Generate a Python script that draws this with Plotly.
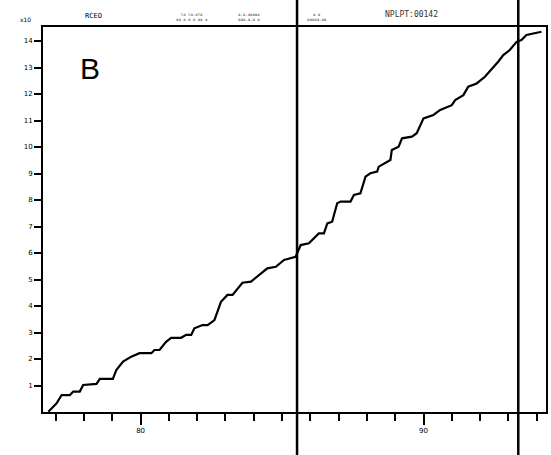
import plotly.graph_objects as go

# Cumulative curve
x_vals = [76.74, 76.91, 77.03, 77.21, 77.50, 77.62, 77.85, 77.97, 78.44, 78.56,
          79.02, 79.14, 79.38, 79.67, 79.96, 80.38, 80.49, 80.67, 80.90, 81.08,
          81.43, 81.61, 81.79, 81.90, 82.19, 82.37, 82.61, 82.84, 83.07, 83.25,
          83.60, 83.90, 84.19, 84.48, 84.78, 85.07, 85.48, 85.66, 85.95, 86.30,
          86.48, 86.60, 86.77, 86.95, 87.07, 87.42, 87.54, 87.77, 87.95, 88.12,
          88.36, 88.42, 88.83, 88.88, 89.12, 89.24, 89.59, 89.76, 90.00, 90.35,
          90.59, 91.00, 91.12, 91.41, 91.58, 91.88, 92.17, 92.40, 92.64, 92.82,
          93.05, 93.29, 93.46, 93.64, 93.93, 94.17]
y_vals = [0.01, 0.20, 0.33, 0.64, 0.64, 0.77, 0.77, 1.02, 1.06, 1.25,
          1.25, 1.58, 1.90, 2.09, 2.22, 2.22, 2.34, 2.34, 2.65, 2.80,
          2.80, 2.91, 2.91, 3.16, 3.28, 3.28, 3.47, 4.16, 4.42, 4.42,
          4.88, 4.92, 5.17, 5.42, 5.48, 5.74, 5.86, 6.30, 6.37, 6.74,
          6.74, 7.12, 7.18, 7.88, 7.94, 7.94, 8.19, 8.25, 8.88, 9.01,
          9.07, 9.26, 9.51, 9.89, 10.01, 10.33, 10.39, 10.52, 11.08, 11.21,
          11.40, 11.58, 11.77, 11.96, 12.28, 12.40, 12.65, 12.91, 13.22, 13.47,
          13.66, 13.97, 14.04, 14.23, 14.29, 14.35]

y_ticks = list(range(1, 15))
y_tick_labels = [str(v) for v in y_ticks]
x_ticks = [80, 90]
x_tick_labels = ["80", "90"]
separator_x = [85.53, 93.35]

fig = go.Figure()
fig.add_trace(go.Scatter(x=x_vals, y=y_vals, mode="lines",
                         line=dict(color="black", width=2.2, shape="linear"),
                         showlegend=False, hoverinfo="skip"))

tickfont = dict(family="DejaVu Sans", size=7, color="black")
fig.update_xaxes(range=[76.55, 94.33], tickvals=x_ticks, ticktext=x_tick_labels,
                 ticks="outside", ticklen=11, tickwidth=1.5, tickcolor="black",
                 minor=dict(dtick=1, ticks="outside", ticklen=7, tickwidth=1.5, tickcolor="black", showgrid=False),
                 showline=True, linecolor="black", linewidth=2, mirror=True,
                 showgrid=False, zeroline=False, tickfont=tickfont)
fig.update_yaxes(range=[0, 14.53], tickvals=y_ticks, ticktext=y_tick_labels,
                 ticks="outside", ticklen=7, tickwidth=1.5, tickcolor="black",
                 showline=True, linecolor="black", linewidth=2, mirror=True,
                 showgrid=False, zeroline=False, tickfont=tickfont)

for sx in separator_x:
    fig.add_shape(type="line", xref="x", yref="paper", x0=sx, x1=sx, y0=-0.12, y1=1.08,
                  line=dict(color="black", width=2.5))

fig.add_annotation(xref="paper", yref="paper", x=0.07, y=0.94, text="B", showarrow=False,
                   font=dict(family="Liberation Sans", size=30, color="black"))
fig.add_annotation(xref="paper", yref="paper", x=-0.05, y=1.035, text="x10", showarrow=False,
                   font=dict(family="DejaVu Sans", size=6, color="black"))
fig.add_annotation(xref="paper", yref="paper", x=0.08, y=1.045, text="RCEO", showarrow=False,
                   font=dict(family="DejaVu Sans Mono", size=7, color="black"))
fig.add_annotation(xref="paper", yref="paper", x=0.26, y=1.045,
                   text="ta ta:ata<br>aa a a a aa a", showarrow=False,
                   font=dict(family="DejaVu Sans Mono", size=4, color="#444"))
fig.add_annotation(xref="paper", yref="paper", x=0.41, y=1.045,
                   text="a.a.aaaaa<br>aaa.a.a a", showarrow=False,
                   font=dict(family="DejaVu Sans Mono", size=4, color="#444"))
fig.add_annotation(xref="paper", yref="paper", x=0.545, y=1.045,
                   text="a a<br>aaaaa.aa", showarrow=False,
                   font=dict(family="DejaVu Sans Mono", size=4, color="#444"))
fig.add_annotation(xref="paper", yref="paper", x=0.79, y=1.05, text="NPLPT:00142", showarrow=False,
                   font=dict(family="DejaVu Sans Mono", size=8, color="#333"))

fig.update_layout(width=551, height=455, margin=dict(l=43, r=3, t=27, b=43),
                  plot_bgcolor="white", paper_bgcolor="white")
fig.write_html("out.html", config={"displayModeBar": False},
               post_script="document.body.style.margin='0';document.body.style.padding='0';")
